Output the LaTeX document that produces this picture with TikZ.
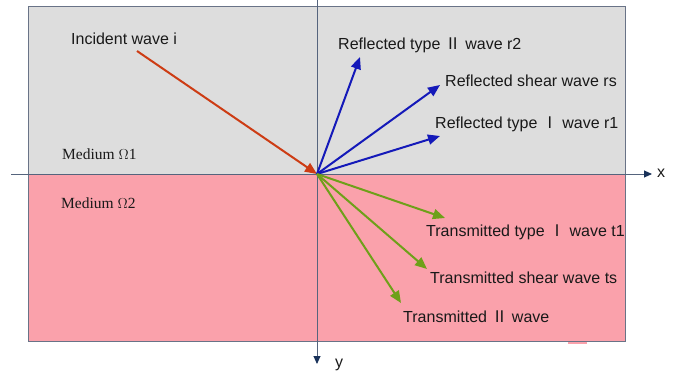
\documentclass[tikz,border=0pt]{standalone}
\usepackage{fontspec}
\setmainfont{Liberation Serif}
\newfontfamily\labelfont{Liberation Sans}
\newfontfamily\cjk{Noto Sans CJK SC}
\usetikzlibrary{arrows.meta}
\definecolor{upperfill}{RGB}{221,221,221}
\definecolor{lowerfill}{RGB}{250,161,171}
\definecolor{framecol}{RGB}{105,115,135}
\definecolor{axiscol}{RGB}{85,100,125}
\definecolor{axistip}{RGB}{25,50,90}
\definecolor{incol}{RGB}{205,60,20}
\definecolor{refcol}{RGB}{20,25,185}
\definecolor{trcol}{RGB}{110,160,25}
\tikzset{
  wavelabel/.style={font=\labelfont\fontsize{16}{18}\selectfont, text=black!90, anchor=west, inner sep=0pt},
  mediumlabel/.style={font=\fontsize{15.5}{17}\selectfont, text=black!90, anchor=west, inner sep=0pt},
  axis/.style={draw=axiscol, line width=0.9pt, -{Triangle[length=8pt,width=7pt,color=axistip]}},
  wave/.style={line width=2pt, -{Triangle[length=12pt,width=10pt]}},
}
\newcommand{\rI}{{\cjk Ⅰ}}
\newcommand{\rII}{{\cjk Ⅱ}}
\begin{document}
\begin{tikzpicture}[x=1pt,y=-1pt]
\useasboundingbox (0,0) rectangle (675,375);
% the two media
\fill[upperfill] (28,6) rectangle (625,174);
\fill[lowerfill] (28,174) rectangle (625,341);
\fill[lowerfill] (568,341) rectangle (587,344);
\draw[framecol, line width=0.9pt] (28,6) rectangle (625,341);
% axes
\coordinate (O) at (317,174);
\coordinate (xstart) at (11,174);
\coordinate (xend) at (652,174);
\coordinate (ystart) at (317,0);
\coordinate (yend) at (317,364);
\draw[axis] (xstart) -- (xend);
\draw[axis] (ystart) -- (yend);
\node[wavelabel] (xlab) at (657,173) {x};
\node[wavelabel] (ylab) at (335,365) {y};
% incident wave
\coordinate (inc) at (137,51);
\draw[wave, incol] (inc) -- (O);
% reflected waves
\coordinate (r2) at (360,57);
\coordinate (rs) at (440,85);
\coordinate (r1) at (440,136);
\draw[wave, refcol] (O) -- (r2);
\draw[wave, refcol] (O) -- (rs);
\draw[wave, refcol] (O) -- (r1);
% transmitted waves
\coordinate (t1) at (445,218);
\coordinate (ts) at (427,269);
\coordinate (t2) at (401,303);
\draw[wave, trcol] (O) -- (t1);
\draw[wave, trcol] (O) -- (ts);
\draw[wave, trcol] (O) -- (t2);
% labels
\node[wavelabel] (linc) at (71,39) {Incident wave i};
\node[wavelabel] (lr2) at (338,45) {Reflected type \rII\ wave r2};
\node[wavelabel] (lrs) at (445,81) {Reflected shear wave rs};
\node[wavelabel] (lr1) at (435,124) {Reflected type \rI\ wave r1};
\node[mediumlabel] (m1) at (62,154) {Medium $\Omega$1};
\node[mediumlabel] (m2) at (61,203) {Medium $\Omega$2};
\node[wavelabel] (lt1) at (426,232) {Transmitted type \rI\ wave t1};
\node[wavelabel] (lts) at (430,278) {Transmitted shear wave ts};
\node[wavelabel] (lt2) at (403,317) {Transmitted \rII\ wave};
\end{tikzpicture}
\end{document}
